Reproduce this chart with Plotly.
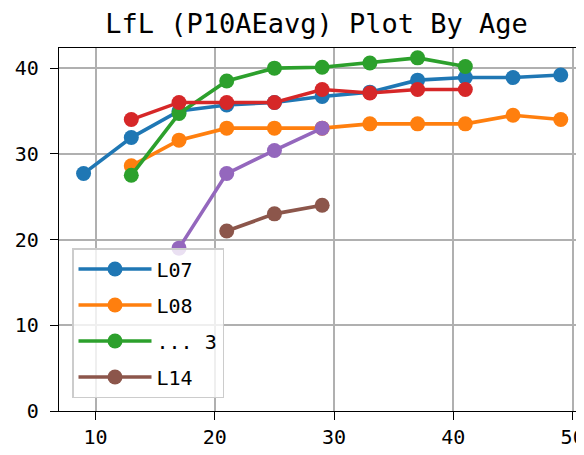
import plotly.graph_objects as go

ages_l07 = [9, 13, 17, 21, 25, 29, 33, 37, 41, 45, 49]
vals_l07 = [27.7, 31.9, 35.0, 35.7, 36.0, 36.7, 37.2, 38.6, 38.9, 38.9, 39.2]

ages_l08 = [13, 17, 21, 25, 29, 33, 37, 41, 45, 49]
vals_l08 = [28.6, 31.6, 33.0, 33.0, 33.0, 33.5, 33.5, 33.5, 34.5, 34.0]

ages_g3 = [13, 17, 21, 25, 29, 33, 37, 41]
vals_g3 = [27.5, 34.7, 38.5, 40.0, 40.1, 40.6, 41.2, 40.2]

ages_red = [13, 17, 21, 25, 29, 33, 37, 41]
vals_red = [34.0, 36.0, 36.0, 36.0, 37.5, 37.1, 37.5, 37.5]

ages_purple = [17, 21, 25, 29]
vals_purple = [19.0, 27.7, 30.4, 33.0]

ages_l14 = [21, 25, 29]
vals_l14 = [21.0, 23.0, 24.0]

series = [
    ("L07", ages_l07, vals_l07, "#1f77b4", True),
    ("L08", ages_l08, vals_l08, "#ff7f0e", True),
    ("... 3", ages_g3, vals_g3, "#2ca02c", True),
    ("L09", ages_red, vals_red, "#d62728", False),
    ("L10", ages_purple, vals_purple, "#9467bd", False),
    ("L14", ages_l14, vals_l14, "#8c564b", True),
]

x_ticks = [10, 20, 30, 40, 50]
y_ticks = [0, 10, 20, 30, 40]

FONT = "DejaVu Sans Mono"
OFF = 8  # page body margin
W, H = 584 - OFF, 455 - OFF

fig = go.Figure()
for i, (name, xs, ys, color, show) in enumerate(series):
    fig.add_trace(go.Scatter(
        x=xs, y=ys, name=name, mode="lines+markers",
        line=dict(color=color, width=3.6),
        marker=dict(color=color, size=15),
        showlegend=show, legendgroup="g%d" % i,
    ))

axis_common = dict(
    showgrid=True, gridcolor="#b0b0b0", gridwidth=1.6,
    showline=True, linecolor="black", linewidth=1.3, mirror=True,
    ticks="outside", ticklen=8, tickwidth=1.3, tickcolor="black",
    tickfont=dict(family=FONT, size=20, color="black"),
    zeroline=False, automargin=False, ticklabeloverflow="allow",
)

fig.update_layout(
    width=W, height=H,
    margin=dict(l=59 - OFF, r=0, t=48 - OFF, b=455 - 411),
    paper_bgcolor="white", plot_bgcolor="white",
    title=dict(text="LfL (P10AEavg) Plot By Age", x=(316.5 - OFF) / W, xref="container",
               xanchor="center", y=1 - (24 - OFF) / H, yref="container", yanchor="middle",
               font=dict(family=FONT, size=27, color="black"), automargin=False),
    xaxis=dict(range=[6.94, 50.95], tickvals=x_ticks, ticklabelstandoff=0, **axis_common),
    yaxis=dict(range=[0, 42.35], tickvals=y_ticks, ticklabelstandoff=7, **axis_common),
    legend=dict(x=(72 - 59) / 525, y=(411 - 248) / 363, xanchor="left", yanchor="top",
                bgcolor="rgba(255,255,255,0.8)", bordercolor="#cccccc", borderwidth=1.5,
                font=dict(family=FONT, size=20, color="black"),
                tracegroupgap=7, itemwidth=73),
    showlegend=True,
)

fig.write_html("out.html")
